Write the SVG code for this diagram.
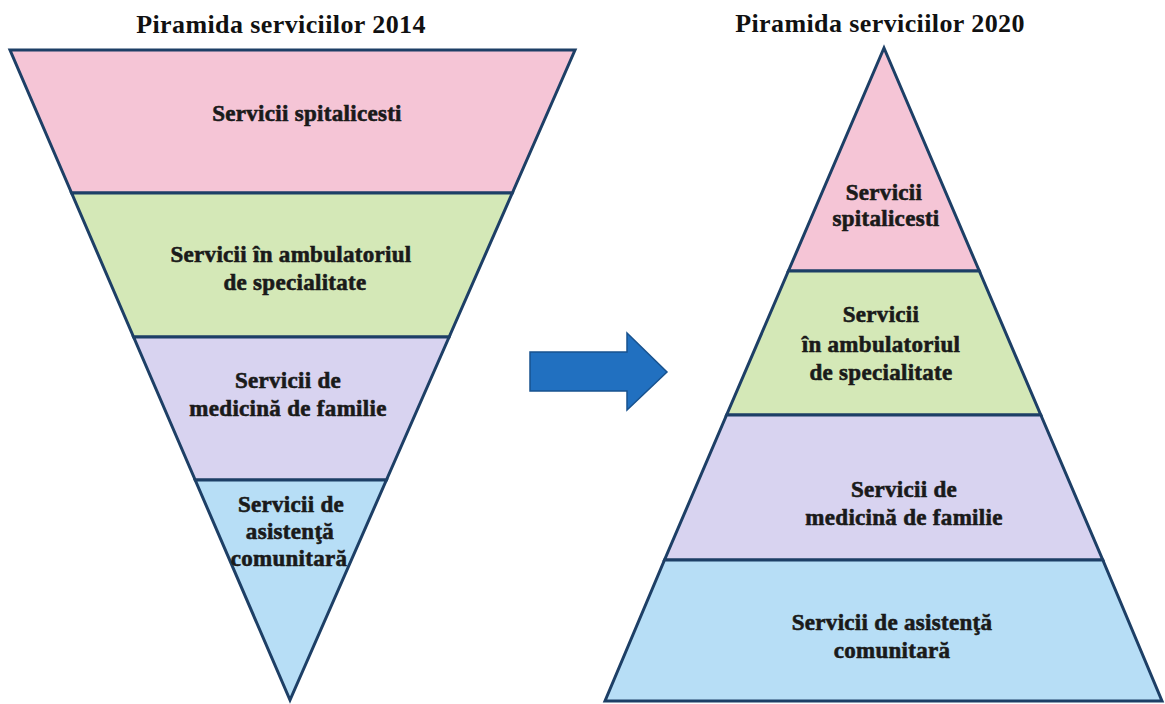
<svg xmlns="http://www.w3.org/2000/svg" width="1165" height="704" viewBox="0 0 1165 704">
<style>
.band{stroke:#1d3f66;stroke-width:3;stroke-linejoin:miter}
.pink{fill:#f5c5d6}.green{fill:#d4e8b7}.lav{fill:#d8d3f0}.blue{fill:#b7def6}
.lbl{font-family:"Liberation Serif","Times New Roman",serif;font-weight:bold;font-size:23px;letter-spacing:0.3px;fill:#1a1a1a;stroke:#1a1a1a;stroke-width:0.6;text-anchor:middle}
.title{font-family:"Liberation Serif","Times New Roman",serif;font-weight:bold;font-size:26px;letter-spacing:0.4px;fill:#111;text-anchor:middle}
</style>
<rect width="1165" height="704" fill="#ffffff"/>
<text class="title" x="281" y="33">Piramida serviciilor 2014</text>
<text class="title" x="880" y="32">Piramida serviciilor 2020</text>

<g id="left-spital">
<polygon class="band pink" points="10,50 575,50 512.3,193 71.6,193"/>
<text class="lbl" x="307" y="121">Servicii spitalicesti</text>
</g>
<g id="left-ambulator">
<polygon class="band green" points="71.6,193 512.3,193 449.1,337 133.6,337"/>
<text class="lbl" x="291" y="262">Servicii în ambulatoriul</text>
<text class="lbl" x="295" y="290">de specialitate</text>
</g>
<g id="left-familie">
<polygon class="band lav" points="133.6,337 449.1,337 386.4,480 195.2,480"/>
<text class="lbl" x="288" y="388">Servicii de</text>
<text class="lbl" x="288" y="416">medicină de familie</text>
</g>
<g id="left-comunitar">
<polygon class="band blue" points="195.2,480 386.4,480 290,700"/>
<text class="lbl" x="291" y="512">Servicii de</text>
<text class="lbl" x="290" y="539">asistenţă</text>
<text class="lbl" x="289" y="566">comunitară</text>
</g>

<g id="connectors">
<polygon points="530,352 627,352 627,333 667,372 627,410 627,391 530,391" fill="#2170c0" stroke="#17528f" stroke-width="1.5" stroke-linejoin="miter"/>
</g>

<g id="right-spital">
<polygon class="band pink" points="884,48 979.3,271 788.4,271"/>
<text class="lbl" x="884" y="200">Servicii</text>
<text class="lbl" x="886" y="226">spitalicesti</text>
</g>
<g id="right-ambulator">
<polygon class="band green" points="788.4,271 979.3,271 1040.8,415 726.6,415"/>
<text class="lbl" x="881" y="322">Servicii</text>
<text class="lbl" x="881" y="352">în ambulatoriul</text>
<text class="lbl" x="881" y="380">de specialitate</text>
</g>
<g id="right-familie">
<polygon class="band lav" points="726.6,415 1040.8,415 1102.8,560 664.5,560"/>
<text class="lbl" x="904" y="497">Servicii de</text>
<text class="lbl" x="904" y="525">medicină de familie</text>
</g>
<g id="right-comunitar">
<polygon class="band blue" points="664.5,560 1102.8,560 1162,701 605,701"/>
<text class="lbl" x="892" y="630">Servicii de asistenţă</text>
<text class="lbl" x="892" y="658">comunitară</text>
</g>
</svg>
